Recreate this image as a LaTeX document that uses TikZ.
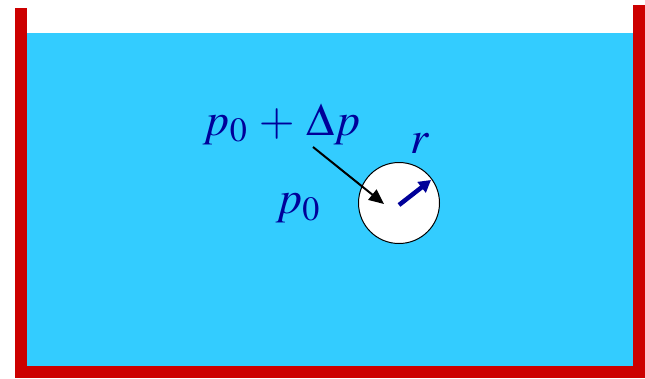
\documentclass[tikz,border=0pt]{standalone}
\usepackage{mathptmx}
\usepackage{xcolor}
\definecolor{tankred}{HTML}{CC0000}
\definecolor{water}{HTML}{33CCFF}
\definecolor{labelblue}{HTML}{000099}
\usepackage{tikz}
\usetikzlibrary{arrows.meta,positioning,calc}

\tikzset{
  wall/.style={fill=tankred,draw=none},
  lbl/.style={text=labelblue,font=\fontsize{46}{52}\selectfont,inner sep=0pt},
}

\begin{document}
\begin{tikzpicture}[x=1pt,y=-1pt]
\useasboundingbox (0,0) rectangle (645,378);
% water
\fill[water] (27,33) rectangle (633,366);
% tank walls
\fill[wall] (15,8) rectangle (27,378);
\fill[wall] (633,5) rectangle (645,378);
\fill[wall] (15,366) rectangle (645,378);
% bubble
\node[circle,draw=black,fill=white,line width=1pt,minimum size=81pt,inner sep=0pt] (bubble) at (399,203) {};
% labels
\node[lbl] (outside) at (282,124) {$p_{\scriptstyle 0}\,+\,\Delta p$};
\node[lbl] (inside) at (298,208) {$p_{\scriptstyle 0}$};
\node[lbl] (radius) at (420,144) {$r$};
% arrows
\coordinate (tail) at (313,147);
\coordinate (tip) at (384,204);
\draw[-{Triangle[length=15pt,width=13pt]},line width=2pt] (tail) -- (tip);
\coordinate (rtip) at (431,180);
\draw[-{Triangle[length=12pt,width=13pt]},line width=4.5pt,labelblue] (bubble.center) ++(0,2) -- (rtip);
\end{tikzpicture}
\end{document}
